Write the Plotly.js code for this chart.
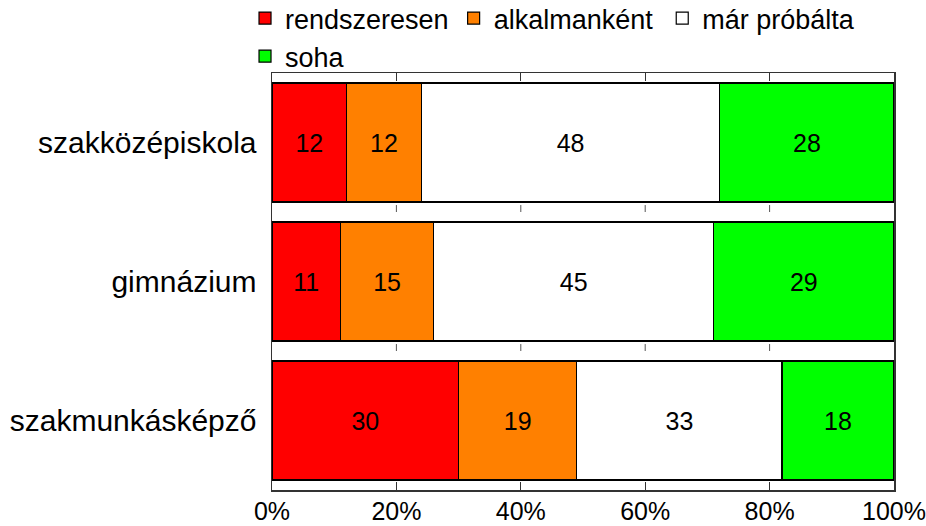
<!DOCTYPE html>
<html>
<head>
<meta charset="utf-8">
<script src="https://cdn.plot.ly/plotly-3.0.1.min.js"></script>
<style>html,body{margin:0;padding:0;background:#fff;}#chart{width:926px;height:526px;}</style>
</head>
<body>
<div id="chart"></div>
<script>
const categories = ["szakközépiskola", "gimnázium", "szakmunkásképző"];
const seriesNames = ["rendszeresen", "alkalmanként", "már próbálta", "soha"];
const rendszeresen = [12, 11, 30];
const alkalmankent = [12, 15, 19];
const marProbalta = [48, 45, 33];
const soha = [28, 29, 18];
const tickValues = [0, 20, 40, 60, 80, 100];
const tickLabels = ["0%", "20%", "40%", "60%", "80%", "100%"];

const colors = ["#FF0000", "#FF8000", "#FFFFFF", "#00FF00"];
const values = [rendszeresen, alkalmankent, marProbalta, soha];

const FONT = "Liberation Sans, Arial, sans-serif";

const data = values.map((v, i) => ({
  type: "bar",
  orientation: "h",
  name: seriesNames[i],
  y: categories,
  x: v,
  text: v.map(String),
  textposition: "inside",
  insidetextanchor: "middle",
  textangle: 0,
  constraintext: "none",
  textfont: {family: FONT, size: 25, color: "#000"},
  marker: {color: colors[i], line: {color: "#000", width: 1.2}},
  hoverinfo: "x+y+name"
}));

// small mid-gap tick marks between bar bands
const shapes = [];
const innerTicks = tickValues.slice(1, -1);
[0.5, 1.5].forEach(g => {
  innerTicks.forEach(t => {
    shapes.push({type: "line", xref: "x", yref: "y", x0: t, x1: t, y0: g - 0.05, y1: g,
      line: {color: "#555", width: 1}});
  });
});

const layout = {
  width: 926, height: 526,
  margin: {l: 272, r: 32, t: 73, b: 36, autoexpand: false},
  paper_bgcolor: "#fff", plot_bgcolor: "#fff",
  barmode: "stack",
  bargap: 0.144,
  font: {family: FONT, color: "#000"},
  showlegend: true,
  legend: {
    orientation: "h", xref: "container", yref: "container",
    x: 0.2646, xanchor: "left", y: 0.846, yanchor: "bottom",
    font: {family: FONT, size: 27, color: "#000"},
    itemwidth: 30, traceorder: "normal",
    bgcolor: "rgba(0,0,0,0)"
  },
  xaxis: {
    range: [0, 100], tickvals: tickValues, ticktext: tickLabels,
    ticks: "inside", ticklen: 8, tickcolor: "#333", tickwidth: 1,
    showline: true, linecolor: "#333", linewidth: 1.5, mirror: "ticks",
    showgrid: false, zeroline: false, automargin: false,
    ticklabeloverflow: "allow", ticklabelstandoff: -2,
    tickfont: {family: FONT, size: 25, color: "#000"},
    fixedrange: true
  },
  yaxis: {
    type: "category", categoryorder: "array", categoryarray: categories,
    autorange: "reversed", automargin: false,
    showline: true, linecolor: "#333", linewidth: 1.5, mirror: true,
    ticks: "", showgrid: false, zeroline: false,
    ticklabelstandoff: 8,
    tickfont: {family: FONT, size: 30, color: "#000"},
    fixedrange: true
  },
  shapes: shapes
};

Plotly.newPlot("chart", data, layout, {displayModeBar: false, staticPlot: true});
</script>
</body>
</html>
